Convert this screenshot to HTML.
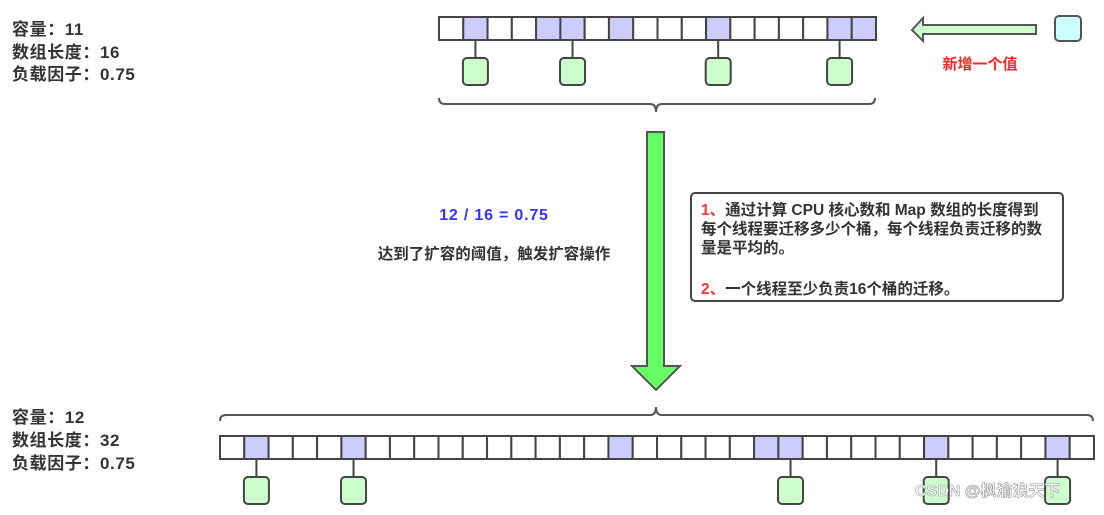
<!DOCTYPE html>
<html><head><meta charset="utf-8"><style>
body{margin:0;background:#fff;width:1104px;height:510px;overflow:hidden}
text{font-family:"Liberation Sans","Noto Sans CJK SC",sans-serif;font-weight:bold}
</style></head><body>
<svg id="s" width="1104" height="510" xmlns="http://www.w3.org/2000/svg">
<g font-size="17" fill="#333" letter-spacing="0.6">
<text x="12" y="35">容量：11</text>
<text x="12" y="58">数组长度：16</text>
<text x="12" y="80">负载因子：0.75</text>
<text x="12" y="423">容量：12</text>
<text x="12" y="446">数组长度：32</text>
<text x="12" y="469">负载因子：0.75</text>
</g>
<g id="cells" stroke="#444" stroke-width="2"></g>
<path d="M439 98 q0 6 6 6 L650 104 q6 0 6 8 q0 -8 6 -8 L869 104 q6 0 6 -6" fill="none" stroke="#555" stroke-width="2"/>
<path d="M220 421 q0 -6 6 -6 L650 415 q6 0 6 -8 q0 8 6 8 L1087 415 q6 0 6 6" fill="none" stroke="#555" stroke-width="2"/>
<polygon points="647,132 664,132 664,366 680,366 656,390 632,366 647,366" fill="#66ff66" stroke="#555" stroke-width="2"/>
<polygon points="912,30 923,18 923,25 1036,25 1036,34 923,34 923,41" fill="#ccffcc" stroke="#555" stroke-width="2"/>
<rect x="1055" y="16" width="26" height="25" rx="4" fill="#ccffff" stroke="#555" stroke-width="2"/>
<text x="980" y="69" font-size="15" fill="#ff2222" text-anchor="middle">新增一个值</text>
<text x="494" y="220" font-size="16" fill="#3333ff" text-anchor="middle" letter-spacing="0.8">12 / 16 = 0.75</text>
<text x="494" y="259" font-size="15.5" fill="#333" text-anchor="middle">达到了扩容的阈值，触发扩容操作</text>
<rect x="691" y="193" width="372" height="108" rx="4" fill="#fff" stroke="#444" stroke-width="2"/>
<g font-size="15.5" fill="#333">
<text x="701" y="215"><tspan fill="#ff3333">1、</tspan>通过计算 CPU 核心数和 Map 数组的长度得到</text>
<text x="701" y="234">每个线程要迁移多少个桶，每个线程负责迁移的数</text>
<text x="701" y="253">量是平均的。</text>
<text x="701" y="294"><tspan fill="#ff3333">2、</tspan>一个线程至少负责16个桶的迁移。</text>
</g>
<text x="915" y="496" font-size="16" fill="#fff" stroke="#999" stroke-width="0.6" font-weight="normal">CSDN @枫渝浪天下</text>
</svg>
<script>
var g=document.getElementById('cells'),ns='http://www.w3.org/2000/svg';
function row(x0,y,n,fill,bx){var w=(n==18?437:874)/n;
for(var i=0;i<n;i++){var r=document.createElementNS(ns,'rect');r.setAttribute('x',x0+i*w);r.setAttribute('y',y);r.setAttribute('width',w);r.setAttribute('height',23);r.setAttribute('fill',fill.indexOf(i)>=0?'#ccccff':'#fff');g.appendChild(r);}
bx.forEach(function(i){var cx=x0+(i+0.5)*w;var l=document.createElementNS(ns,'line');l.setAttribute('x1',cx);l.setAttribute('x2',cx);l.setAttribute('y1',y+23);l.setAttribute('y2',y+41);g.appendChild(l);
var b=document.createElementNS(ns,'rect');b.setAttribute('x',cx-12.5);b.setAttribute('y',y+41);b.setAttribute('width',25);b.setAttribute('height',27);b.setAttribute('rx',4);b.setAttribute('fill','#ccffcc');g.appendChild(b);});}
row(439,17,18,[1,4,5,7,11,16,17],[1,5,11,16]);
row(220,436,36,[1,5,16,22,23,29,34],[1,5,23,29,34]);
</script>
</body></html>
